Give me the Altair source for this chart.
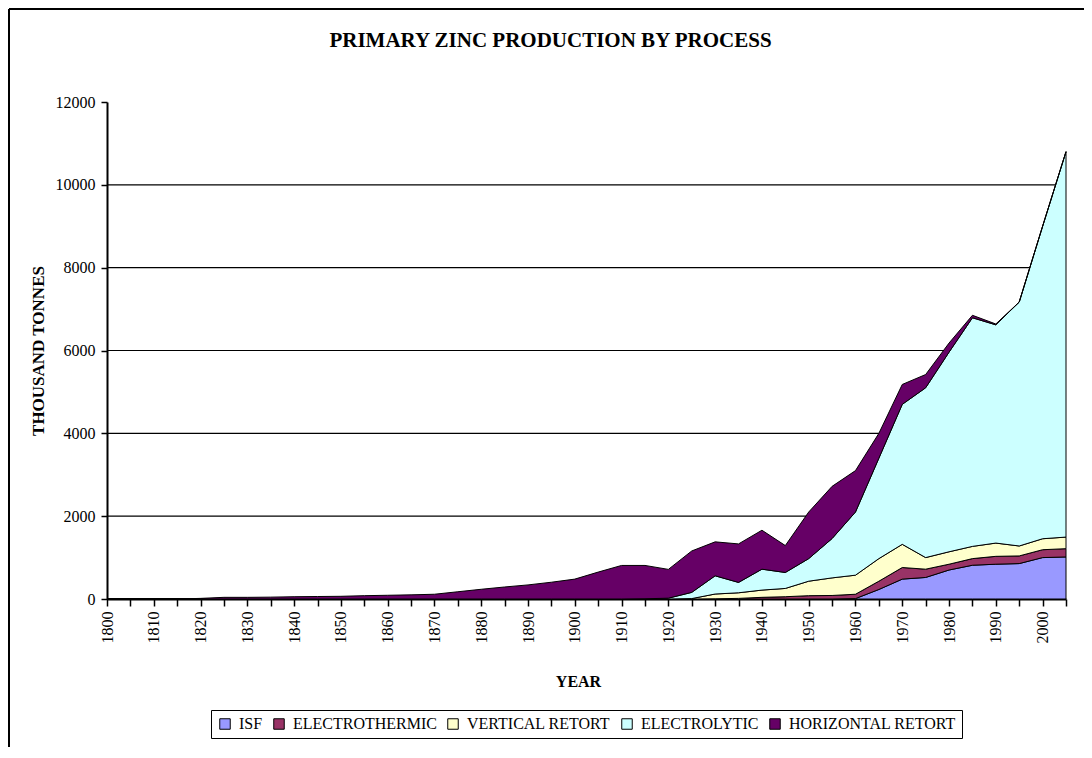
import altair as alt
import pandas as pd

FONT = "Liberation Serif"

years = [1800, 1805, 1810, 1815, 1820, 1825, 1830, 1835, 1840, 1845,
         1850, 1855, 1860, 1865, 1870, 1875, 1880, 1885, 1890, 1895,
         1900, 1905, 1910, 1915, 1920, 1925, 1930, 1935, 1940, 1945,
         1950, 1955, 1960, 1965, 1970, 1975, 1980, 1985, 1990, 1995,
         2000, 2005]

isf = [0, 0, 0, 0, 0, 0, 0, 0, 0, 0,
       0, 0, 0, 0, 0, 0, 0, 0, 0, 0,
       0, 0, 0, 0, 0, 0, 0, 0, 0, 0,
       0, 0, 10, 230, 480, 520, 700, 815, 840, 855,
       1000, 1015]

electrothermic = [0, 0, 0, 0, 0, 0, 0, 0, 0, 0,
                  0, 0, 0, 0, 0, 0, 0, 0, 0, 0,
                  0, 0, 0, 0, 0, 0, 5, 15, 40, 55,
                  80, 85, 105, 200, 280, 200, 140, 160, 190, 185,
                  190, 200]

vertical_retort = [0, 0, 0, 0, 0, 0, 0, 0, 0, 0,
                   0, 0, 0, 0, 0, 0, 0, 0, 0, 0,
                   0, 0, 0, 0, 0, 10, 115, 135, 175, 200,
                   350, 425, 460, 545, 560, 280, 300, 295, 320, 240,
                   265, 280]

electrolytic = [0, 0, 0, 0, 0, 0, 0, 0, 0, 0,
                0, 0, 0, 0, 0, 0, 0, 0, 0, 0,
                0, 0, 0, 5, 20, 150, 440, 250, 505, 385,
                545, 950, 1525, 2425, 3380, 4100, 4820, 5520, 5270, 5890,
                7545, 9305]

horizontal_retort = [0, 0, 0, 0, 15, 40, 40, 45, 55, 60,
                     65, 80, 90, 100, 115, 175, 235, 290, 340, 405,
                     480, 650, 810, 805, 695, 1000, 820, 930, 940, 650,
                     1125, 1260, 1000, 600, 480, 320, 220, 60, 20, 0,
                     0, 0]

processes = ["ISF", "ELECTROTHERMIC", "VERTICAL RETORT", "ELECTROLYTIC", "HORIZONTAL RETORT"]
colors = ["#9999FF", "#993366", "#FFFFCC", "#CCFFFF", "#660066"]
series = [isf, electrothermic, vertical_retort, electrolytic, horizontal_retort]

y_ticks = [0, 2000, 4000, 6000, 8000, 10000, 12000]
grid_values = [2000, 4000, 6000, 8000, 10000]

rows = []
for i, (name, vals) in enumerate(zip(processes, series)):
    for yr, v in zip(years, vals):
        rows.append({"year": yr, "process": name, "value": v, "order": i})
df = pd.DataFrame(rows)

W, H = 959, 497

y_scale = alt.Scale(domain=[0, 12000], nice=False, zero=True)
x_scale = alt.Scale(domain=[1800, 2005], nice=False, zero=False)

y_axis = alt.Axis(
    values=y_ticks, format="d", grid=False,
    labelFont=FONT, labelFontSize=16, labelColor="black", labelPadding=6,
    tickSize=6, tickColor="black", tickWidth=1.5,
    domainColor="black", domainWidth=2,
    title="THOUSAND TONNES", titleFont=FONT, titleFontSize=17,
    titleFontWeight="bold", titleColor="black", titleAngle=270,
    titleX=-69, titleY=H / 2, titleAlign="center", titleBaseline="middle",
)

x_axis = alt.Axis(
    values=years, format="d",
    labelExpr="datum.value % 10 == 0 ? datum.label : ''",
    labelAngle=270, labelFont=FONT, labelFontSize=16, labelColor="black",
    labelPadding=5, labelOverlap=False, labelFlush=False,
    tickSize=7, tickColor="black", tickWidth=1.5,
    domainColor="black", domainWidth=2, grid=False,
    title="YEAR", titleFont=FONT, titleFontSize=16, titleFontWeight="bold",
    titleColor="black", titleX=471, titleY=82,
    titleAlign="center", titleBaseline="middle",
)

grid = alt.Chart(pd.DataFrame({"g": grid_values})).mark_rule(
    color="black", strokeWidth=1.2
).encode(
    y=alt.Y("g:Q", scale=y_scale, axis=y_axis)
)

areas = alt.Chart(df).mark_area(
    stroke="black", strokeWidth=1, interpolate="linear", opacity=1
).encode(
    x=alt.X("year:Q", scale=x_scale, axis=x_axis),
    y=alt.Y("value:Q", stack="zero", scale=y_scale, axis=y_axis),
    color=alt.Color(
        "process:N",
        scale=alt.Scale(domain=processes, range=colors),
        legend=alt.Legend(
            title=None, orient="none", legendX=104, legendY=608,
            direction="horizontal", fillColor="white", strokeColor="black",
            padding=6, symbolType="square", symbolSize=110,
            symbolStrokeColor="black", symbolStrokeWidth=1,
            labelFont=FONT, labelFontSize=16, labelColor="black",
            labelLimit=0, labelOffset=6, columnPadding=8,
        ),
    ),
    order=alt.Order("order:Q", sort="ascending"),
)

border_left = alt.Chart(pd.DataFrame({"a": [0]})).mark_rule(
    color="black", strokeWidth=2
).encode(x=alt.value(-98), y=alt.value(-93), y2=alt.value(H + 148))

border_top = alt.Chart(pd.DataFrame({"a": [0]})).mark_rule(
    color="black", strokeWidth=2
).encode(x=alt.value(-98), x2=alt.value(W + 18), y=alt.value(-93))

chart = alt.layer(grid, areas, border_left, border_top).properties(
    width=W, height=H,
    autosize=alt.AutoSizeParams(type="none"),
    padding={"left": 99, "top": 94, "right": 18, "bottom": 148},
    title=alt.TitleParams(
        text="PRIMARY ZINC PRODUCTION BY PROCESS",
        font=FONT, fontSize=21, fontWeight="bold", color="black",
        anchor="middle", frame="group", dx=-36, offset=0, dy=64,
        baseline="bottom",
    ),
    background="white",
).configure_view(stroke=None)

chart.save("out.html", embed_options={"renderer": "svg", "actions": False})
